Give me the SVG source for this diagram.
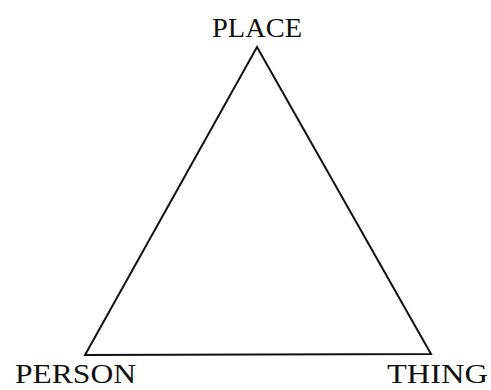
<svg xmlns="http://www.w3.org/2000/svg" width="491" height="390" viewBox="0 0 491 390">
<style>
text{font-family:"Liberation Serif","Times New Roman",serif;font-size:28px;fill:#111}
.edge{fill:none;stroke:#111;stroke-width:2;stroke-linejoin:miter}
</style>
<rect width="491" height="390" fill="#fff"/>
<g id="connectors">
<path class="edge" d="M257,47 L431,354 L85,355 Z"/>
</g>
<g id="place"><text x="212" y="37" textLength="90" lengthAdjust="spacingAndGlyphs">PLACE</text></g>
<g id="person"><text x="15" y="383" textLength="121" lengthAdjust="spacingAndGlyphs">PERSON</text></g>
<g id="thing"><text x="387" y="383" textLength="101" lengthAdjust="spacingAndGlyphs">THING</text></g>
</svg>
